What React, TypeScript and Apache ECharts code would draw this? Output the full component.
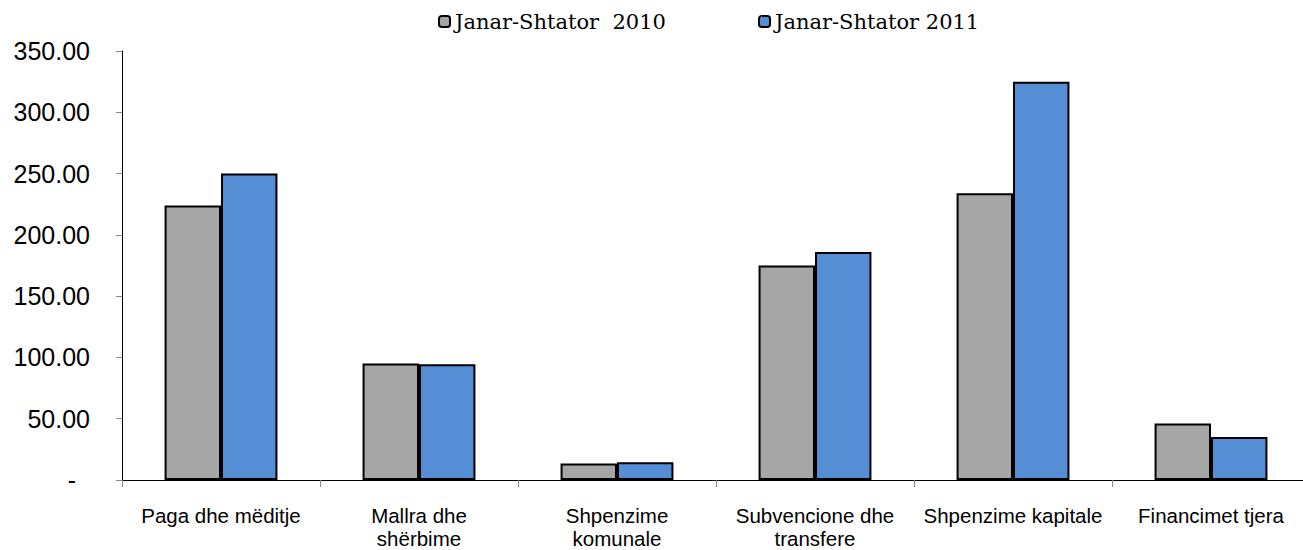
import React, { useEffect, useRef } from "react";
import * as echarts from "echarts";

const categories = [
  "Paga dhe mëditje",
  "Mallra dhe\nshërbime",
  "Shpenzime\nkomunale",
  "Subvencione dhe\ntransfere",
  "Shpenzime kapitale",
  "Financimet tjera",
];
const seriesNames = ["Janar-Shtator  2010", "Janar-Shtator 2011"];
const values2010 = [224, 95, 13.5, 175, 234, 46];
const values2011 = [250, 94.5, 14.5, 186, 325, 35];

export default function App() {
  const ref = useRef<HTMLDivElement>(null);
  useEffect(() => {
    if (!ref.current) return;
    const chart = echarts.init(ref.current, null, { renderer: "svg" });
    const legendText = {
      fontFamily: "DejaVu Serif",
      fontSize: 21,
      color: "#000",
    };
    chart.setOption({
      animation: false,
      backgroundColor: "#fff",
      legend: [
        {
          data: [seriesNames[0]],
          left: 438,
          top: 11,
          itemWidth: 11,
          itemHeight: 11,
          itemGap: 4,
          textStyle: legendText,
          padding: 0,
        },
        {
          data: [seriesNames[1]],
          left: 758,
          top: 11,
          itemWidth: 11,
          itemHeight: 11,
          textStyle: legendText,
          padding: 0,
        },
      ],
      grid: {
        left: 122,
        top: 51,
        width: 1188,
        height: 429,
        containLabel: false,
        outerBoundsMode: "none",
      },
      xAxis: {
        type: "category",
        data: categories,
        axisLine: { lineStyle: { color: "#000", width: 1 } },
        axisTick: { show: true, length: 7, inside: false, alignWithLabel: false, lineStyle: { color: "#888" } },
        axisLabel: {
          interval: 0,
          fontFamily: "Liberation Sans",
          fontSize: 20.5,
          lineHeight: 23,
          color: "#000",
          margin: 24,
        },
      },
      yAxis: {
        type: "value",
        min: 0,
        max: 350,
        interval: 50,
        splitLine: { show: false },
        axisLine: { show: true, lineStyle: { color: "#000", width: 1 } },
        axisTick: { show: true, length: 6, lineStyle: { color: "#888" } },
        axisLabel: {
          fontFamily: "Liberation Sans",
          fontSize: 25,
          color: "#000",
          margin: 32,
          formatter: (v: number) => (v === 0 ? "-  " : v.toFixed(2)),
        },
      },
      series: [
        {
          name: seriesNames[0],
          type: "bar",
          data: values2010,
          barGap: "0%",
          barCategoryGap: "43%",
          itemStyle: { color: "#A6A6A6", borderColor: "#000", borderWidth: 2 },
        },
        {
          name: seriesNames[1],
          type: "bar",
          data: values2011,
          barGap: "0%",
          barCategoryGap: "43%",
          itemStyle: { color: "#558ED5", borderColor: "#000", borderWidth: 2 },
        },
      ],
    });
    return () => chart.dispose();
  }, []);
  return (
    <div
      ref={ref}
      style={{ position: "fixed", left: 0, top: 0, width: 1303, height: 550 }}
    />
  );
}
